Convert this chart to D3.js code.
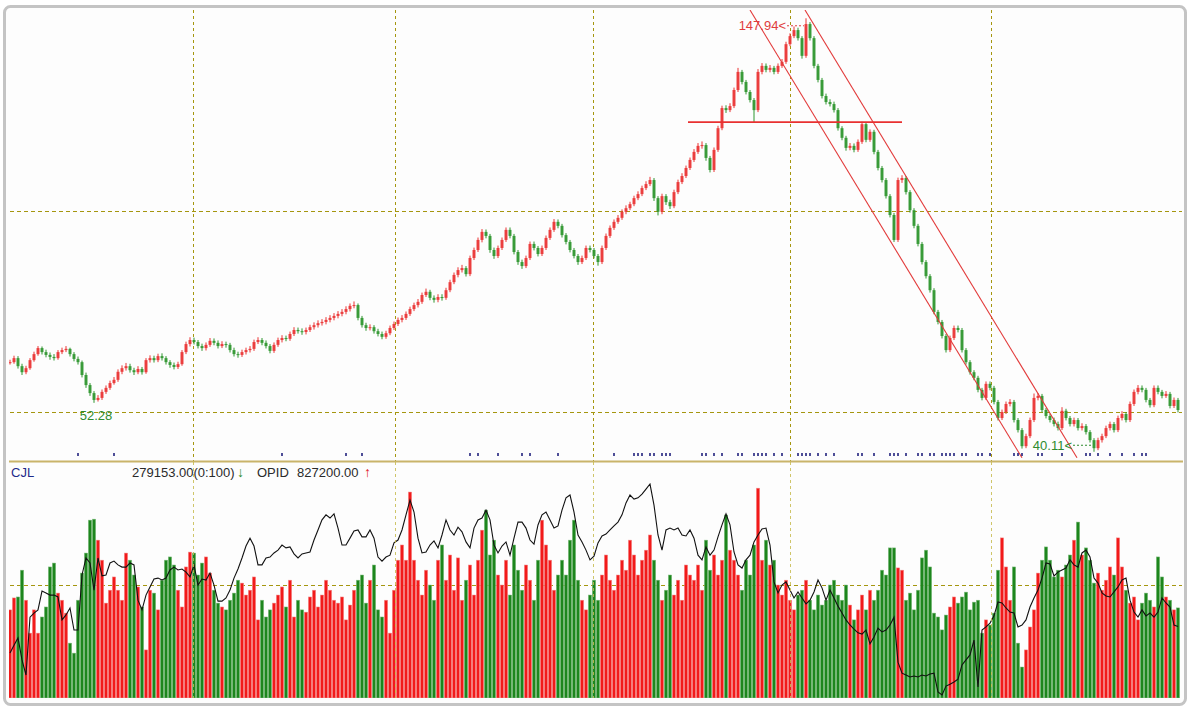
<!DOCTYPE html>
<html><head><meta charset="utf-8">
<script src="https://cdn.jsdelivr.net/npm/d3@7"></script>
<style>html,body{margin:0;padding:0;background:#fff;} svg{display:block;font-family:"Liberation Sans",Arial,"DejaVu Sans",sans-serif;}</style>
</head><body><svg id="chart" width="1191" height="712"></svg>
<script>
// ---- data ----
const closes=[62.4,63.4,61.4,59.9,60.9,62.9,64.4,65.9,64.9,64.2,
63.7,63.4,64.9,65.4,65.7,64.4,63.2,62.4,59.2,56.7,
54.7,53.0,53.5,55.0,56.0,57.2,58.0,60.0,60.9,61.4,
60.4,59.9,60.7,59.9,62.9,63.4,62.9,63.9,63.4,62.4,
61.7,61.2,61.9,64.9,66.9,67.9,67.4,66.4,65.9,66.7,
67.7,67.2,66.4,66.9,66.7,65.4,64.4,64.2,64.9,65.4,
65.7,67.4,67.9,67.2,66.4,65.2,66.7,67.9,68.4,68.2,
69.4,70.4,70.1,69.9,70.4,71.1,71.6,72.1,72.4,72.9,
73.4,73.9,74.4,74.9,75.6,76.4,76.6,73.4,71.6,70.9,
71.1,70.1,69.4,68.7,69.6,70.9,71.9,72.9,73.4,74.4,
75.6,76.6,77.4,79.1,79.9,78.4,77.9,78.6,78.4,80.3,
82.3,84.1,85.3,85.8,84.3,88.3,90.3,92.8,94.8,93.8,
90.3,88.8,90.8,92.8,95.3,93.8,89.8,87.3,86.3,88.3,
91.8,90.8,89.3,90.8,93.3,95.3,97.3,96.3,94.0,92.3,
90.3,88.8,87.3,88.3,90.8,90.3,88.8,87.3,90.8,93.8,
95.8,97.3,98.3,99.8,100.7,101.7,103.2,104.2,105.7,106.7,
107.7,103.2,99.8,103.7,102.2,101.2,104.7,107.2,108.7,110.7,
112.7,114.7,116.2,116.4,113.2,110.2,115.2,120.6,125.6,125.1,
126.1,130.1,134.6,132.1,129.6,127.6,125.1,134.6,136.1,135.1,
135.6,134.6,136.1,137.1,141.5,143.5,145.0,143.0,138.6,146.5,
143.0,136.1,132.6,128.6,127.1,126.6,125.1,120.6,118.2,115.7,
116.2,115.2,117.2,121.6,117.7,119.7,114.7,110.7,107.7,103.7,
99.0,92.8,107.7,108.2,104.7,100.2,96.3,91.8,87.3,83.8,
80.3,74.9,72.4,68.9,65.4,68.4,70.9,70.4,65.4,62.4,
59.9,58.5,55.5,53.5,57.0,56.0,52.5,48.5,50.0,52.0,
52.5,48.0,45.5,41.5,44.0,48.0,53.5,54.0,50.5,49.0,
48.0,47.0,46.0,50.3,48.5,47.0,48.0,46.0,46.5,45.0,
43.0,41.0,43.0,44.0,46.0,47.0,45.5,48.5,49.5,48.0,
52.0,55.0,56.0,55.5,53.0,51.7,56.0,55.0,54.0,54.5,51.5,53.0,50.5];

const highs=[63.0,64.0,63.9,62.0,61.5,63.4,65.0,66.4,66.3,65.5,
64.8,64.4,65.4,66.0,66.4,66.0,64.9,63.8,62.8,59.8,
57.2,55.2,54.2,55.6,56.6,57.8,58.7,60.6,61.6,62.2,
62.0,61.0,61.4,61.2,63.4,64.1,64.0,64.5,64.6,63.9,
62.9,62.3,62.5,65.4,67.5,68.6,68.5,67.9,67.0,67.3,
68.4,68.3,67.8,67.6,67.5,67.2,66.0,65.0,65.5,66.0,
66.4,68.0,68.6,68.4,67.8,66.9,67.3,68.5,69.1,69.0,
70.0,71.1,71.0,70.8,71.0,71.7,72.3,72.8,73.1,73.6,
74.1,74.6,75.1,75.6,76.3,77.0,77.5,77.0,73.9,72.2,
71.8,71.6,70.7,70.0,70.2,71.5,72.5,73.5,74.1,75.0,
76.2,77.2,78.1,79.7,80.7,80.4,79.0,79.3,79.3,80.9,
82.9,84.7,86.0,86.6,86.3,88.9,90.9,93.4,95.5,95.4,
94.3,90.9,91.4,93.4,95.9,95.9,94.3,90.3,87.9,88.9,
92.4,92.4,91.3,91.4,93.9,95.9,98.0,97.9,96.8,94.5,
92.8,90.8,89.3,88.9,91.4,91.4,90.8,89.3,91.4,94.4,
96.4,97.9,99.0,100.4,101.4,102.3,103.8,104.9,106.3,107.4,
108.5,108.2,103.7,104.3,104.2,102.8,105.3,107.8,109.4,111.3,
113.3,115.4,116.9,117.3,116.9,113.7,115.8,121.2,126.2,126.3,
126.8,130.7,135.6,135.1,132.6,130.1,128.1,135.3,136.8,136.7,
136.3,136.1,136.7,137.8,142.1,144.2,145.9,145.6,143.5,147.94,
147.0,143.5,136.6,133.1,129.2,127.8,127.2,125.6,121.1,118.7,
116.9,116.8,117.8,122.2,122.1,120.3,120.2,115.2,111.2,108.2,
104.2,99.5,108.3,108.9,108.7,105.2,100.7,96.8,92.3,87.8,
84.3,80.8,75.4,72.9,69.4,69.0,71.5,71.5,70.9,65.9,
62.9,60.4,59.0,56.0,57.6,57.6,56.5,53.0,50.6,52.6,
53.2,53.0,48.5,46.0,44.6,48.6,54.6,54.7,54.5,51.0,
49.6,48.6,47.6,51.2,50.8,49.0,48.6,48.5,47.2,47.0,
45.5,43.5,43.6,44.6,46.6,47.6,47.5,49.1,50.2,50.0,
52.6,55.6,56.7,56.6,56.0,53.5,56.6,56.6,55.5,55.2,55.0,53.6,53.5];

const lows=[61.8,62.0,60.8,59.2,59.4,60.5,62.5,64.0,64.3,63.6,
63.0,62.8,63.0,64.4,64.9,63.8,62.6,61.8,58.6,56.0,
54.0,52.28,52.6,53.0,54.5,55.5,56.8,57.5,59.4,60.3,
59.8,59.2,59.4,59.3,59.5,62.3,62.3,62.4,62.8,61.8,
61.0,60.6,60.7,61.5,64.4,66.3,66.8,65.8,65.2,65.3,
66.2,66.6,65.8,65.9,66.0,64.8,63.8,63.5,63.7,64.3,
64.8,65.2,66.9,66.6,65.8,64.6,64.7,66.2,67.3,67.6,
67.7,68.9,69.5,69.2,69.3,69.9,70.5,71.0,71.5,71.8,
72.3,72.8,73.3,73.8,74.3,75.0,75.8,72.8,71.0,70.2,
70.3,69.5,68.8,68.1,68.2,69.1,70.4,71.4,72.3,72.9,
73.9,75.1,76.0,76.9,78.6,77.8,77.2,77.3,77.7,77.9,
79.8,81.8,83.5,84.7,83.7,83.8,87.8,89.8,92.2,93.2,
89.6,88.1,88.3,90.3,92.3,93.2,89.2,86.6,85.6,85.8,
87.8,90.2,88.7,88.8,90.3,92.8,94.8,95.7,93.4,91.7,
89.7,88.2,86.6,86.8,87.8,89.7,88.2,86.4,86.8,90.3,
93.3,95.3,96.8,97.8,99.2,100.2,101.2,102.7,103.7,105.2,
106.2,102.5,98.9,99.2,101.5,100.5,100.7,104.2,106.7,108.2,
110.2,112.2,114.2,115.5,112.5,109.6,109.7,114.7,120.1,124.4,
124.6,125.6,129.6,131.5,129.0,127.0,122.1,124.6,134.0,134.5,
134.5,134.0,134.1,135.6,136.6,141.0,143.0,142.4,137.9,138.1,
142.4,135.5,132.0,128.0,126.5,126.0,124.5,120.0,117.6,115.0,
115.1,114.6,114.7,116.7,117.1,117.2,114.1,110.1,107.1,103.1,
98.4,92.3,92.3,107.0,104.1,99.6,95.7,91.2,86.7,83.2,
79.7,74.3,71.8,68.3,64.8,64.9,67.9,69.8,64.8,61.8,
59.3,57.9,54.9,52.9,53.0,55.4,51.9,47.9,48.0,49.5,
51.4,47.4,44.9,40.9,41.0,43.5,47.5,52.9,49.9,48.4,
47.4,46.4,45.4,45.5,47.9,46.4,46.4,45.4,45.4,44.4,
42.4,40.11,40.5,42.4,43.5,45.4,44.9,45.0,47.9,47.4,
47.5,51.5,54.4,54.9,52.4,51.1,51.2,54.4,53.4,53.5,50.9,51.0,49.9];

// volume (CJL), thousands
const volumeK=[273,310,313,396,303,201,273,201,251,282,
406,418,325,303,263,170,139,303,387,449,
551,554,489,427,294,334,375,334,303,449,
427,381,344,282,149,334,325,273,365,427,
437,412,334,282,406,452,449,381,418,437,
387,334,294,282,273,303,325,365,356,319,
334,375,242,303,251,273,294,319,344,282,
365,251,303,273,266,313,334,282,319,365,
334,303,294,313,242,288,334,365,381,294,
365,412,273,251,303,201,334,427,474,427,
638,427,365,319,396,350,303,427,474,365,
443,334,434,303,365,412,319,427,520,582,
443,489,381,350,427,319,474,396,334,412,
365,303,427,551,474,427,334,381,427,381,
489,551,365,303,273,319,365,303,381,443,
365,334,381,427,396,489,443,381,427,458,
505,427,365,303,334,381,319,365,303,412,
381,365,412,334,489,396,443,381,427,567,
458,427,381,334,427,381,474,650,427,489,
412,427,350,319,365,303,273,319,334,365,
303,273,319,288,303,350,365,319,303,350,
288,242,273,319,273,334,303,334,396,381,
465,465,403,396,303,325,273,334,434,458,
406,263,251,211,257,282,313,294,313,328,
273,297,303,201,242,226,263,396,496,406,
303,406,170,96,149,220,273,387,427,468,
427,375,396,375,412,443,489,545,443,465,
427,356,387,334,365,406,381,496,406,334,
294,313,242,294,325,303,282,437,375,313,303,273,279.153];

// open interest (OPID), thousands
const opidK=[743,768,791,721,673,857,870,880,940,934,
927,927,921,848,864,886,816,816,991,1045,
1029,943,1045,988,991,1029,1035,1023,1016,1016,
1029,1023,911,880,927,953,978,981,975,981,
1007,1016,1007,1010,1000,985,1023,959,978,975,
997,959,908,908,918,943,981,1010,1045,1083,
1108,1083,1023,1023,1045,1048,1061,1070,1086,1077,
1080,1058,1045,1058,1061,1064,1102,1134,1166,1182,
1172,1185,1140,1086,1086,1108,1131,1134,1112,1112,
1134,1108,1048,1035,1048,1054,1093,1102,1134,1182,
1229,1191,1108,1061,1064,1086,1099,1077,1118,1166,
1134,1118,1143,1128,1096,1077,1140,1166,1172,1197,
1166,1086,1061,1083,1096,1054,1108,1159,1159,1140,
1102,1089,1150,1182,1191,1166,1140,1147,1197,1236,
1245,1191,1118,1096,1070,1039,1051,1093,1115,1121,
1134,1147,1159,1182,1220,1245,1232,1236,1248,1264,
1280,1213,1118,1070,1134,1140,1134,1140,1118,1115,
1134,1108,1054,1039,1080,1054,1070,1112,1150,1185,
1150,1064,1023,1013,1039,1054,1096,1118,1137,1140,
1086,969,934,959,969,943,918,937,918,899,
911,937,975,950,911,943,918,892,870,848,
832,819,807,803,816,772,794,822,810,816,
832,857,714,679,673,667,670,667,673,670,
676,679,619,610,638,644,651,660,705,721,
737,784,635,816,826,838,861,905,902,886,
873,870,826,832,848,889,918,943,981,1029,
1026,988,1000,1007,1013,1039,1023,1016,1061,1070,
1048,981,965,934,924,921,937,953,975,981,
911,873,857,880,861,870,857,873,918,902,889,832,827.2];

const gridBars=[45.75,96.25,145.75,195,245.25];
const priceGrid=[50,100];
const volumeGridK=[350];
const markerBars=[17,26,68,84,88,115,117,122,128,130,137,151,156,157,158,160,161,163,164,165,173,174,176,178,182,183,186,187,188,189,191,193,197,198,199,200,202,204,206,212,213,216,220,221,222,224,227,228,230,231,233,234,235,236,238,239,242,243,245,251,252,253,257,258,263,269,270,272,275,278,281,283,284];
const channelLines=[[[185,150],[253,38.6]],[[198.75,150],[266.75,38.6]]];
const supportLine=[[169.5,122.1],[223,122.1]];
const labelHigh={bar:199,value:147.94};
const labelLow1={bar:21,value:52.28};
const labelLow2={bar:271,value:40.11};
const legendNames=["CJL","OPID"];

// ---- layout ----
const N=closes.length;
const svg=d3.select("#chart");
const L=10,R=1178, PT=10, PB=461, VT=462, VB=698;
const x=d3.scaleLinear().domain([0,N-1]).range([L,R]);
const y=d3.scaleLinear().domain([37.81,150]).range([PB,PT]);
const yv=d3.scaleLinear().domain([0,731]).range([VB,VT]);
const yo=d3.scaleLinear().domain([600,1350]).range([VB,VT]);
const UP="#ea3434", DOWN="#2f962f", GRID="#a5960f";

svg.append("rect").attr("width",1191).attr("height",712).attr("fill","#ffffff");
svg.append("rect").attr("x",4.5).attr("y",6.5).attr("width",1181).attr("height",698).attr("rx",6)
  .attr("fill","#fdfdfd").attr("stroke","#c4c4c4").attr("stroke-width",3);

const defs=svg.append("defs");
defs.append("clipPath").attr("id","cp").append("rect").attr("x",9).attr("y",PT).attr("width",1175).attr("height",PB-PT);
defs.append("clipPath").attr("id","cv").append("rect").attr("x",9).attr("y",VT).attr("width",1175).attr("height",VB-VT);

const opens=closes.map((c,i)=>i>0?closes[i-1]:c);

// grid
const g=svg.append("g");
priceGrid.forEach(p=>g.append("line").attr("x1",L).attr("x2",1182).attr("y1",Math.round(y(p))+0.5).attr("y2",Math.round(y(p))+0.5)
  .attr("stroke",GRID).attr("stroke-dasharray","4,3"));
volumeGridK.forEach(v=>g.append("line").attr("x1",L).attr("x2",1182).attr("y1",Math.round(yv(v))+0.5).attr("y2",Math.round(yv(v))+0.5)
  .attr("stroke",GRID).attr("stroke-dasharray","4,3"));
gridBars.forEach(b=>g.append("line").attr("x1",Math.round(x(b))+0.5).attr("x2",Math.round(x(b))+0.5).attr("y1",PT).attr("y2",PB)
  .attr("stroke",GRID).attr("stroke-dasharray","3,3"));

// price panel
const pg=svg.append("g").attr("clip-path","url(#cp)");
const idx=d3.range(N);
pg.selectAll("line.wick").data(idx).join("line").attr("class","wick")
  .attr("x1",i=>x(i)).attr("x2",i=>x(i)).attr("y1",i=>y(highs[i])).attr("y2",i=>y(lows[i]))
  .attr("stroke",i=>closes[i]>=opens[i]?UP:DOWN).attr("stroke-width",1);
pg.selectAll("rect.body").data(idx).join("rect").attr("class","body")
  .attr("x",i=>x(i)-1.5).attr("width",3)
  .attr("y",i=>y(Math.max(opens[i],closes[i])))
  .attr("height",i=>Math.max(1,Math.abs(y(opens[i])-y(closes[i]))))
  .attr("fill",i=>closes[i]>=opens[i]?UP:DOWN).attr("opacity",0.9);

const line=d3.line().x(d=>x(d[0])).y(d=>y(d[1]));
channelLines.forEach(cl=>pg.append("path").attr("d",line(cl)).attr("fill","none").attr("stroke","#e23a3a").attr("stroke-width",1.1));
pg.append("path").attr("d",line(supportLine)).attr("fill","none").attr("stroke","#e83030").attr("stroke-width",1.6);

// markers
pg.selectAll("rect.mk").data(markerBars).join("rect").attr("class","mk")
  .attr("x",i=>x(i)-0.8).attr("y",453).attr("width",1.6).attr("height",3).attr("fill","#23237e");

// labels
const hx=x(labelHigh.bar), hy=y(labelHigh.value);
svg.append("text").attr("x",hx-20).attr("y",hy+12).attr("text-anchor","end").attr("font-size",13)
  .attr("fill","#e03c3c").text(labelHigh.value.toFixed(2)+"<");
svg.append("line").attr("x1",hx-19).attr("x2",hx-2).attr("y1",hy+7.5).attr("y2",hy+7.5).attr("stroke","#e03c3c").attr("stroke-dasharray","2,2");
svg.append("text").attr("x",x(labelLow1.bar)+2).attr("y",y(labelLow1.value)+17).attr("text-anchor","middle").attr("font-size",13)
  .attr("fill","#2e8b2e").text(labelLow1.value.toFixed(2));
const lx=x(labelLow2.bar), ly=y(labelLow2.value);
svg.append("text").attr("x",lx-22).attr("y",ly-2).attr("text-anchor","end").attr("font-size",13)
  .attr("fill","#2e8b2e").text(labelLow2.value.toFixed(2)+"<");
svg.append("line").attr("x1",lx-21).attr("x2",lx-2).attr("y1",ly-6.5).attr("y2",ly-6.5).attr("stroke","#2e8b2e").attr("stroke-dasharray","2,2");

// separator
svg.append("line").attr("x1",9).attr("x2",1183).attr("y1",461.5).attr("y2",461.5).attr("stroke","#c9b46a").attr("stroke-width",2);

// volume panel
const vg=svg.append("g").attr("clip-path","url(#cv)");
vg.selectAll("rect.vol").data(idx).join("rect").attr("class","vol")
  .attr("x",i=>x(i)-1.7).attr("width",3.4)
  .attr("y",i=>yv(volumeK[i])).attr("height",i=>VB-yv(volumeK[i]))
  .attr("fill",i=>closes[i]>=opens[i]?"#f21a1a":"#1d861d")
  .attr("stroke",i=>closes[i]>=opens[i]?"#f49a9a":"#8cc48c").attr("stroke-width",0.5);
vg.append("path").datum(idx).attr("d",d3.line().x(i=>x(i)).y(i=>yo(opidK[i])))
  .attr("fill","none").attr("stroke","#111").attr("stroke-width",1.1);
gridBars.forEach(b=>vg.append("line").attr("x1",Math.round(x(b))+0.5).attr("x2",Math.round(x(b))+0.5).attr("y1",VT).attr("y2",VB)
  .attr("stroke","#c8bc50").attr("stroke-dasharray","3,3").attr("opacity",0.85));

// legend
const lv=(volumeK[N-1]*1000).toFixed(2), lo=(opidK[N-1]*1000).toFixed(2);
const lg=svg.append("g").attr("font-size",13);
lg.append("text").attr("x",11).attr("y",477).attr("fill","#1e2a8a").text(legendNames[0]);
lg.append("text").attr("x",132).attr("y",477).attr("fill","#2a2a2a").text(lv+"(0:100)");
lg.append("text").attr("x",237).attr("y",477).attr("fill","#2a8a2a").attr("font-size",14).text("↓");
lg.append("text").attr("x",257).attr("y",477).attr("fill","#2a2a2a").text(legendNames[1]);
lg.append("text").attr("x",297).attr("y",477).attr("fill","#2a2a2a").text(lo);
lg.append("text").attr("x",364).attr("y",477).attr("fill","#e02020").attr("font-size",14).text("↑");
</script></body></html>
